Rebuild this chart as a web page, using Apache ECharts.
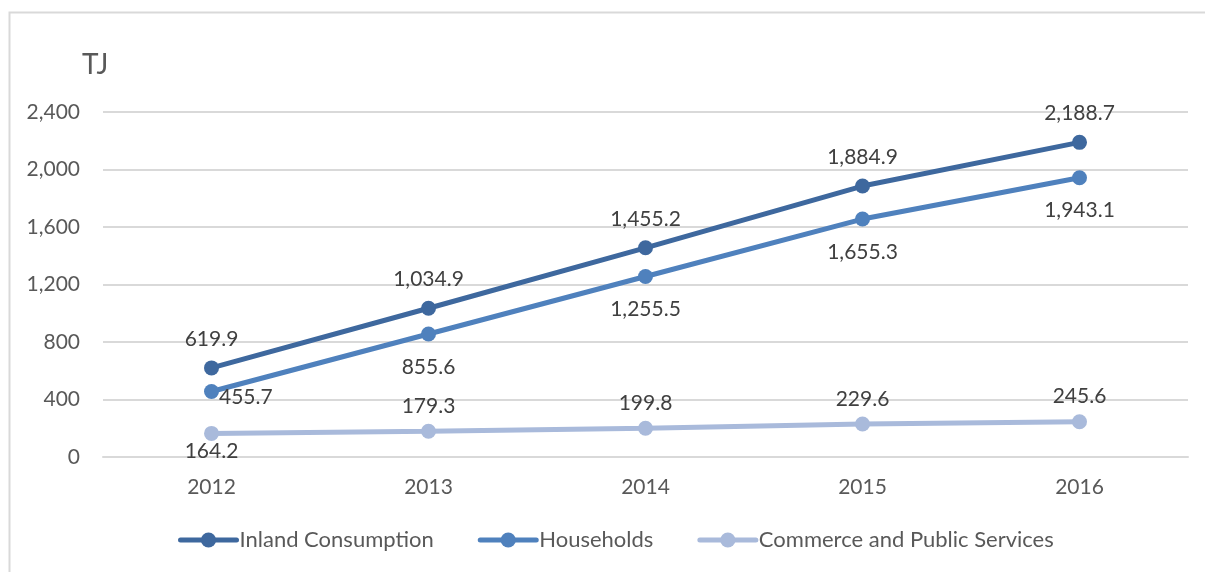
<!DOCTYPE html>
<html>
<head>
<meta charset="utf-8">
<style>
  html, body { margin: 0; padding: 0; background: #fff; }
  #chart { width: 1205px; height: 572px; }
</style>
<script src="https://cdn.jsdelivr.net/npm/echarts@6/dist/echarts.min.js"></script>
</head>
<body>
<div id="chart"></div>
<script>
// Final energy consumption by sector, in TJ
const years = ['2012', '2013', '2014', '2015', '2016'];
const inlandConsumption = [619.9, 1034.9, 1455.2, 1884.9, 2188.7];
const households = [455.7, 855.6, 1255.5, 1655.3, 1943.1];
const commercePublic = [164.2, 179.3, 199.8, 229.6, 245.6];

const FONT = 'Lato, "Open Sans", sans-serif';
const TEXT = '#595959';
const FS = 21;

const fmt = v => v.toLocaleString('en-US', { minimumFractionDigits: 1, maximumFractionDigits: 1 });

function seriesDef(name, values, color, labelFor) {
  return {
    name,
    type: 'line',
    data: values.map((v, i) => ({ value: v, label: labelFor(i) })),
    symbol: 'circle',
    symbolSize: 15,
    lineStyle: { width: 5, color },
    itemStyle: { color },
    label: {
      show: true,
      formatter: p => fmt(p.value),
      color: '#404040',
      fontFamily: FONT,
      fontSize: FS
    },
    emphasis: { disabled: true },
    animation: false
  };
}

const chart = echarts.init(document.getElementById('chart'));
chart.setOption({
  backgroundColor: '#fff',
  graphic: [
    {
      type: 'rect',
      shape: { x: 9.5, y: 12.5, width: 1210, height: 580 },
      style: { fill: 'none', stroke: '#D9D9D9', lineWidth: 2 },
      silent: true
    },
    {
      type: 'text',
      left: 82, top: 51,
      style: { text: 'TJ', fill: TEXT, font: '28px ' + FONT }
    }
  ],
  grid: { left: 103, right: 17, top: 112, bottom: 115 },
  xAxis: {
    type: 'category',
    data: years,
    boundaryGap: true,
    axisLine: { show: true, lineStyle: { color: '#D9D9D9', width: 2 } },
    axisTick: { show: false },
    axisLabel: { color: TEXT, fontFamily: FONT, fontSize: FS, margin: 20 }
  },
  yAxis: {
    type: 'value',
    min: 0, max: 2400, interval: 400,
    axisLine: { show: false },
    axisTick: { show: false },
    splitLine: { lineStyle: { color: '#D9D9D9', width: 2 } },
    axisLabel: {
      color: TEXT, fontFamily: FONT, fontSize: FS, margin: 23,
      formatter: v => v.toLocaleString('en-US')
    }
  },
  legend: {
    bottom: 16,
    left: 173,
    itemWidth: 56,
    itemHeight: 19,
    itemGap: 44,
    lineStyle: { width: 5, cap: 'round' },
    textStyle: { color: TEXT, fontFamily: FONT, fontSize: 22, padding: [0, 0, 0, -2] },
    data: ['Inland Consumption', 'Households', 'Commerce and Public Services']
  },
  series: [
    seriesDef('Inland Consumption', inlandConsumption, '#3E689E',
      () => ({ position: 'top', distance: 11 })),
    seriesDef('Households', households, '#4F81BD',
      i => i === 0
        ? { position: 'right', distance: 0, offset: [0, 6] }
        : { position: 'bottom', distance: 15 }),
    seriesDef('Commerce and Public Services', commercePublic, '#A9BADB',
      i => i === 0
        ? { position: 'bottom', distance: 0 }
        : { position: 'top', distance: 7 })
  ]
});
</script>
</body>
</html>
